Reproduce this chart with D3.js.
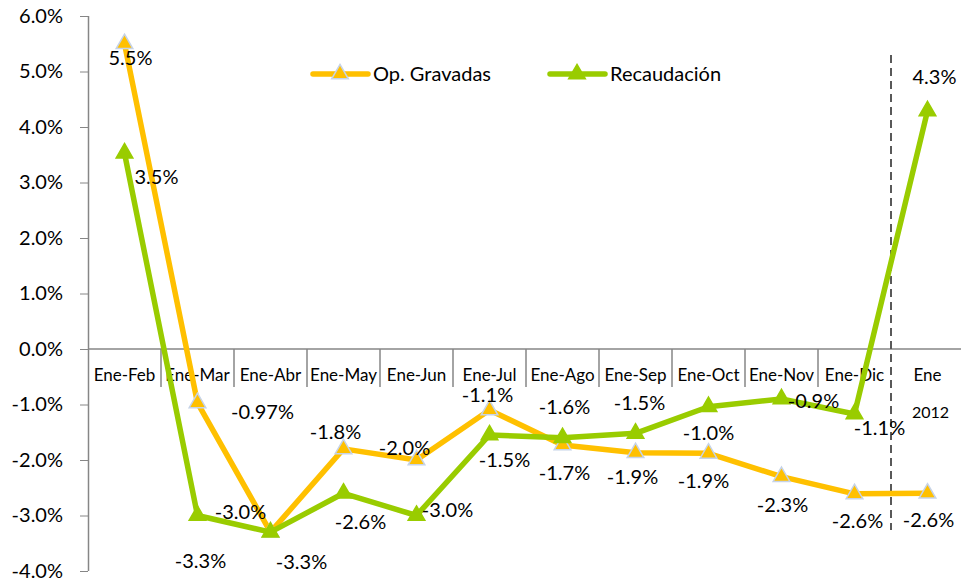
<!DOCTYPE html>
<html>
<head>
<meta charset="utf-8">
<script src="https://cdn.jsdelivr.net/npm/d3@7"></script>
<style>
  body { margin: 0; background: #fff; }
  svg { display: block; font-family: Lato, "Open Sans", sans-serif; }
</style>
</head>
<body>
<svg id="chart"></svg>
<script>
// datos
var categories = ["Ene-Feb", "Ene-Mar", "Ene-Abr", "Ene-May", "Ene-Jun", "Ene-Jul",
  "Ene-Ago", "Ene-Sep", "Ene-Oct", "Ene-Nov", "Ene-Dic", "Ene"];
var opGravadas = [5.5, -0.97, -3.3, -1.8, -2.0, -1.1, -1.73, -1.87, -1.88, -2.3, -2.61, -2.6];
var recaudacion = [3.53, -3.0, -3.3, -2.6, -3.0, -1.55, -1.6, -1.52, -1.04, -0.9, -1.17, 4.29];
// textos de etiquetas tal como aparecen
var opGravadasLabels = ["5.5%", "-0.97%", "-3.0%", "-1.8%", "-2.0%", "-1.1%", "-1.7%", "-1.9%", "-1.9%", "-2.3%", "-2.6%", "-2.6%"];
var recaudacionLabels = ["3.5%", "-3.3%", "-3.3%", "-2.6%", "-3.0%", "-1.5%", "-1.6%", "-1.5%", "-1.0%", "-0.9%", "-1.1%", "4.3%"];
var yTicks = [6, 5, 4, 3, 2, 1, 0, -1, -2, -3, -4];
var yearLabel = "2012";

// desplazamiento de etiquetas (pixeles) relativo al punto
var opOffsets = [[6, 14], [65, 9], [-30, -20], [-8, -17], [-12, -12], [-2, -15], [2, 28], [-3, 24], [-5, 28], [1, 28], [3, 27], [1, 27]];
var recOffsets = [[32, 24], [3, 45], [31, 30], [17, 29], [31, -6], [15, 25], [2, -31], [4, -30], [0, 26], [32, 2], [25, 14], [7, -34]];

var W = 961, H = 579;
var ORANGE = "#FFC000", GREEN = "#99CC00", AXIS = "#868686";

var svg = d3.select("#chart").attr("width", W).attr("height", H);

var x = d3.scaleBand().domain(categories).range([88, 964]);
var y = d3.scaleLinear().domain([-4, 6]).range([571, 16]);

// eje y
var yaxis = svg.append("g")
  .attr("transform", "translate(88,0)")
  .call(d3.axisLeft(y).tickValues(yTicks).tickSize(8).tickPadding(17)
    .tickFormat(function (d) { return d.toFixed(1) + "%"; }));
yaxis.selectAll("line").attr("stroke", AXIS);
yaxis.select(".domain").attr("stroke", AXIS).attr("stroke-width", 1.5).attr("d", "M0.5,16V571");
yaxis.selectAll("text").attr("font-size", 20).attr("fill", "#000").attr("font-family", "Lato");

// eje x en cero, con marcas en los limites
var xg = svg.append("g");
xg.append("line").attr("x1", 88).attr("x2", 964).attr("y1", y(0)).attr("y2", y(0))
  .attr("stroke", AXIS).attr("stroke-width", 1.5);
categories.forEach(function (c, i) {
  var bx = x(c) + x.bandwidth();
  if (i == categories.length - 2) return; // aqui va la linea punteada
  xg.append("line").attr("x1", bx).attr("x2", bx).attr("y1", y(0)).attr("y2", y(0) + 38)
    .attr("stroke", AXIS).attr("stroke-width", 1.5);
});
xg.selectAll("text.cat").data(categories).enter().append("text")
  .attr("class", "cat")
  .attr("x", function (d) { return x(d) + x.bandwidth() / 2; })
  .attr("y", y(0) + 32)
  .attr("text-anchor", "middle")
  .attr("font-size", 17)
  .text(function (d) { return d; });
xg.append("text")
  .attr("x", x("Ene") + x.bandwidth() / 2 + 3)
  .attr("y", y(0) + 69)
  .attr("text-anchor", "middle")
  .attr("font-size", 16)
  .text(yearLabel);

// linea punteada antes de 2012
var dashX = x("Ene");
svg.append("line").attr("x1", dashX).attr("x2", dashX).attr("y1", 55).attr("y2", 530)
  .attr("stroke", "#595959").attr("stroke-width", 2).attr("stroke-dasharray", "8,5");

var line = d3.line()
  .x(function (d, i) { return x(categories[i]) + x.bandwidth() / 2; })
  .y(function (d) { return y(d); });

var tri = d3.symbol().type(d3.symbolTriangle).size(120);

function drawSeries(values, color, markerStroke) {
  svg.append("path").datum(values)
    .attr("d", line)
    .attr("fill", "none")
    .attr("stroke", color)
    .attr("stroke-width", 5.5)
    .attr("stroke-linejoin", "round");
  svg.append("g").selectAll("path").data(values).enter().append("path")
    .attr("d", tri)
    .attr("transform", function (d, i) {
      return "translate(" + (x(categories[i]) + x.bandwidth() / 2) + "," + y(d) + ")";
    })
    .attr("fill", color)
    .attr("stroke", markerStroke)
    .attr("stroke-width", 1.5);
}

drawSeries(opGravadas, ORANGE, "#c6d3e8");
drawSeries(recaudacion, GREEN, GREEN);

function drawLabels(values, labels, offsets) {
  svg.append("g").selectAll("text").data(values).enter().append("text")
    .attr("x", function (d, i) { return x(categories[i]) + x.bandwidth() / 2 + offsets[i][0]; })
    .attr("y", function (d, i) { return y(d) + offsets[i][1]; })
    .attr("dy", "0.35em")
    .attr("text-anchor", "middle")
    .attr("font-size", 20)
    .text(function (d, i) { return labels[i]; });
}
drawLabels(opGravadas, opGravadasLabels, opOffsets);
drawLabels(recaudacion, recaudacionLabels, recOffsets);

// leyenda
var legend = svg.append("g");
var legendItems = [
  { name: "Op. Gravadas", color: ORANGE, stroke: "#c6d3e8", x: 313 },
  { name: "Recaudación", color: GREEN, stroke: GREEN, x: 550 }
];
legendItems.forEach(function (it) {
  legend.append("line").attr("x1", it.x).attr("x2", it.x + 55).attr("y1", 74).attr("y2", 74)
    .attr("stroke", it.color).attr("stroke-width", 5.5).attr("stroke-linecap", "round");
  legend.append("path").attr("d", tri).attr("transform", "translate(" + (it.x + 27) + ",74)")
    .attr("fill", it.color).attr("stroke", it.stroke).attr("stroke-width", 1.5);
  legend.append("text").attr("x", it.x + 60).attr("y", 74).attr("dy", "0.35em")
    .attr("font-size", 20).text(it.name);
});
</script>
</body>
</html>
